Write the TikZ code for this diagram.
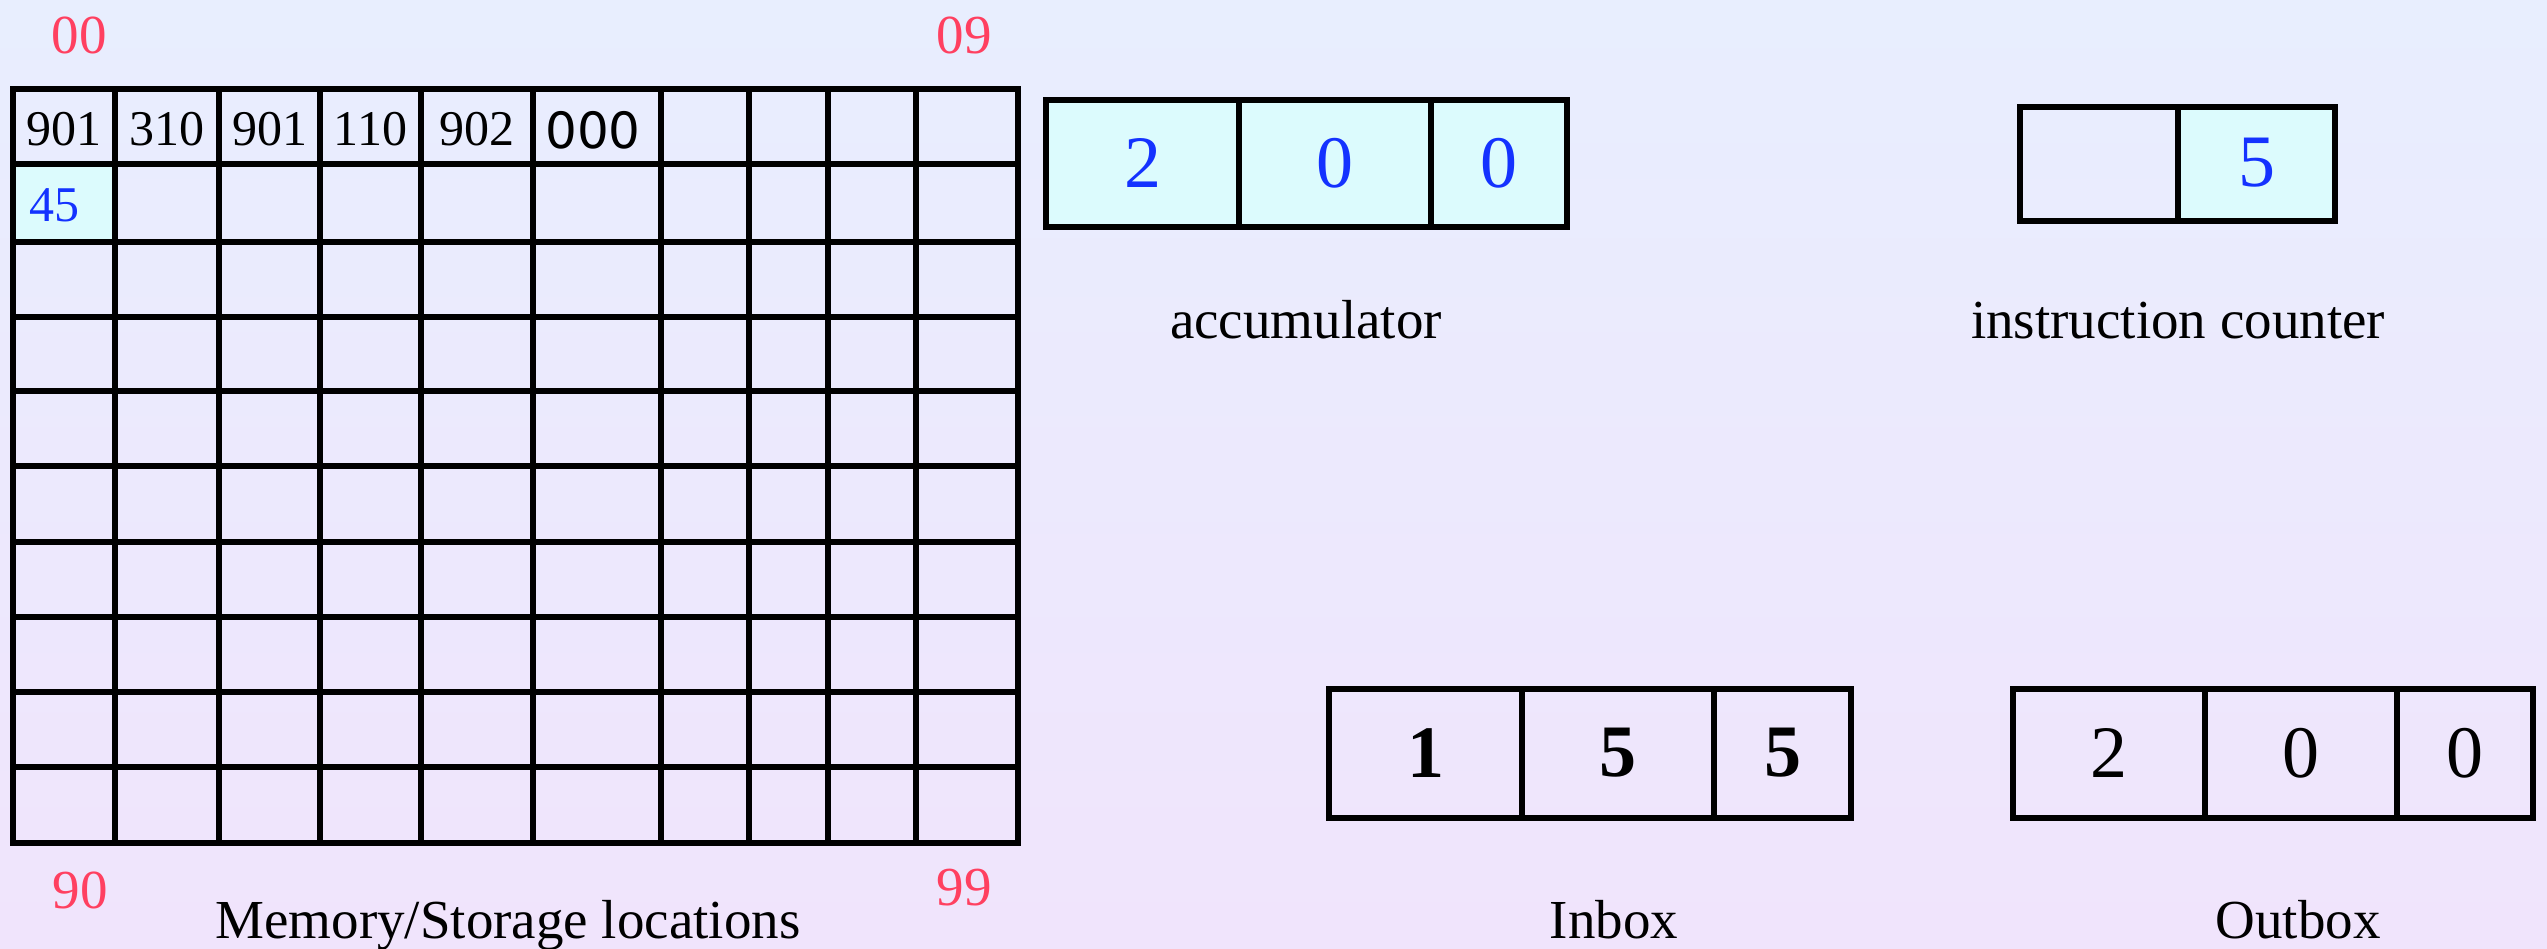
\documentclass[tikz,border=0pt]{standalone}
\usepackage{fontspec}
\setmainfont{Liberation Serif}
\newfontfamily\sansf{DejaVu Sans}
\definecolor{bgtop}{RGB}{232,238,254}
\definecolor{bgbot}{RGB}{240,228,252}
\definecolor{cellcyan}{RGB}{220,251,253}
\definecolor{numblue}{RGB}{20,50,255}
\definecolor{labred}{RGB}{255,64,96}
\tikzset{
  gridline/.style={line width=5.5pt, black},
  boxline/.style={line width=5.5pt, black, line cap=rect},
  celltxt/.style={font=\fontsize{50}{58}\selectfont, inner sep=0pt},
  redlab/.style={font=\fontsize{55}{64}\selectfont, text=labred, inner sep=0pt},
  caption/.style={font=\fontsize{55}{64}\selectfont, inner sep=0pt, anchor=base},
  bigdigit/.style={font=\fontsize{74}{84}\selectfont, inner sep=0pt},
}
\begin{document}
\begin{tikzpicture}[x=1pt,y=-1pt]
\useasboundingbox (0,0) rectangle (2547,949);
\shade[top color=bgtop,bottom color=bgbot] (0,0) rectangle (2547,949);

% ---------- memory grid ----------
\fill[cellcyan] (13,164) rectangle (115,242);
\foreach \x in {13,115,219,320,421,533,661,749,828,916,1018}
  \draw[gridline] (\x,89) -- (\x,843);
\foreach \y in {89,164,242,317,391,466,542,617,692,767,843}
  \draw[gridline] (13,\y) -- (1018,\y);
\draw[boxline] (13,89) rectangle (1018,843);

\node[celltxt] (m00) at (64,129) {901};
\node[celltxt] (m01) at (167,129) {310};
\node[celltxt] (m02) at (269.5,129) {901};
\node[celltxt] (m03) at (370.5,129) {110};
\node[celltxt] (m04) at (477,129) {902};
\node[celltxt,font=\sansf\fontsize{50}{58}\selectfont] (m05) at (593,130) {000};
\node[celltxt,text=numblue,anchor=west] (m10) at (29,205) {45};

\node[redlab] (l00) at (79,35) {00};
\node[redlab] (l09) at (964,35) {09};
\node[redlab] (l90) at (80,890) {90};
\node[redlab] (l99) at (964,888) {99};
\node[caption] (memcap) at (508,938) {Memory/Storage locations};

% ---------- accumulator ----------
\fill[cellcyan] (1046,100) rectangle (1567,227);
\draw[boxline] (1046,100) rectangle (1567,227);
\draw[gridline] (1239,100) -- (1239,227);
\draw[gridline] (1431,100) -- (1431,227);
\node[bigdigit,text=numblue] (a1) at (1142.5,163) {2};
\node[bigdigit,text=numblue] (a2) at (1335,163) {0};
\node[bigdigit,text=numblue] (a3) at (1499,163) {0};
\node[caption] (acccap) at (1306,338) {accumulator};

% ---------- instruction counter ----------
\fill[cellcyan] (2178,107) rectangle (2335,221);
\draw[boxline] (2020,107) rectangle (2335,221);
\draw[gridline] (2178,107) -- (2178,221);
\node[bigdigit,text=numblue] (ic) at (2256.5,163) {5};
\node[caption] (iccap) at (2178,338) {instruction counter};

% ---------- inbox ----------
\draw[boxline] (1329,689) rectangle (1851,818);
\draw[gridline] (1522,689) -- (1522,818);
\draw[gridline] (1714,689) -- (1714,818);
\node[bigdigit,font=\bfseries\fontsize{74}{84}\selectfont] (i1) at (1425.5,753) {1};
\node[bigdigit,font=\bfseries\fontsize{74}{84}\selectfont] (i2) at (1618,753) {5};
\node[bigdigit,font=\bfseries\fontsize{74}{84}\selectfont] (i3) at (1782.5,753) {5};
\node[caption] (incap) at (1614,938) {Inbox};

% ---------- outbox ----------
\draw[boxline] (2013,689) rectangle (2533,818);
\draw[gridline] (2205,689) -- (2205,818);
\draw[gridline] (2397,689) -- (2397,818);
\node[bigdigit] (o1) at (2109,753) {2};
\node[bigdigit] (o2) at (2301,753) {0};
\node[bigdigit] (o3) at (2465,753) {0};
\node[caption] (outcap) at (2298,938) {Outbox};
\end{tikzpicture}
\end{document}
